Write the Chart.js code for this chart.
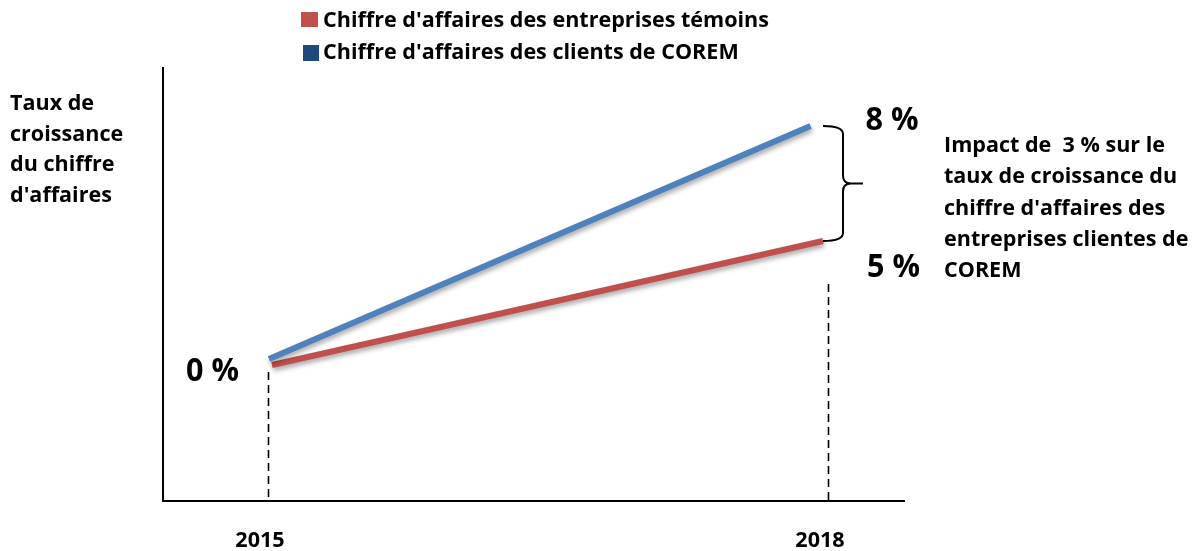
<!DOCTYPE html>
<html>
<head>
<meta charset="utf-8">
<script src="https://cdn.jsdelivr.net/npm/chart.js@4.4.1/dist/chart.umd.min.js"></script>
<style>
  html, body { margin: 0; padding: 0; background: #fff; }
  #wrap { width: 1196px; height: 551px; }
</style>
</head>
<body>
<div id="wrap"><canvas id="chart" width="1196" height="551"></canvas></div>
<script>
"use strict";

// data
var years = [2015, 2018];
var temoinsGrowth = [0, 5];   // entreprises témoins (%)
var clientsGrowth = [0, 8];   // clients de COREM (%)
var seriesNames = [
    "Chiffre d'affaires des entreprises témoins",
    "Chiffre d'affaires des clients de COREM"
];
var yTitle = ["Taux de", "croissance", "du chiffre", "d'affaires"];
var impactNote = [
    "Impact de  3 % sur le",
    "taux de croissance du",
    "chiffre d'affaires des",
    "entreprises clientes de",
    "COREM"
];

var RED = "#c0504d";
var BLUE = "#4f81bd";
var BLUE_KEY = "#1f497d";
var FONT = "'Open Sans', 'DejaVu Sans', sans-serif";

function toPoints(values) {
    return years.map(function (yr, i) { return { x: yr, y: values[i] }; });
}

function pct(v) { return v + " %"; }

// bold text squeezed horizontally by k (Calibri is narrower)
function drawText(ctx, str, x, y, size, k, align) {
    ctx.save();
    ctx.font = "bold " + size + "px " + FONT;
    ctx.textAlign = "left";
    ctx.textBaseline = "alphabetic";
    ctx.fillStyle = "#000";
    var w = ctx.measureText(str).width * k;
    var left = x;
    if (align === "center") left = x - w / 2;
    if (align === "right") left = x - w;
    ctx.translate(left, y);
    ctx.scale(k, 1);
    ctx.fillText(str, 0, 0);
    ctx.restore();
    return w;
}

function squeeze(ctx, str, size, width) {
    ctx.save();
    ctx.font = "bold " + size + "px " + FONT;
    var w = ctx.measureText(str).width;
    ctx.restore();
    return width / w;
}

var shadowPlugin = {
    id: "lineShadow",
    beforeDatasetDraw: function (chart) {
        var ctx = chart.ctx;
        ctx.save();
        ctx.shadowColor = "rgba(0,0,0,0.35)";
        ctx.shadowBlur = 5;
        ctx.shadowOffsetX = 1;
        ctx.shadowOffsetY = 3;
    },
    afterDatasetDraw: function (chart) {
        chart.ctx.restore();
    }
};

var decorPlugin = {
    id: "decor",
    beforeDatasetsDraw: function (chart) {
        var ctx = chart.ctx;
        var a = chart.chartArea;
        var red = chart.getDatasetMeta(0).data;
        var xg = chart.scales.xG;

        ctx.save();
        // axes
        ctx.strokeStyle = "#000";
        ctx.lineWidth = 2;
        ctx.beginPath();
        ctx.moveTo(a.left, a.top);
        ctx.lineTo(a.left, a.bottom);
        ctx.lineTo(a.right, a.bottom);
        ctx.stroke();

        // dashed year markers
        ctx.lineWidth = 1.6;
        ctx.setLineDash([8, 5]);
        var tops = [red[0].y + 7, red[1].y + 43];
        years.forEach(function (yr, i) {
            var x = Math.round(xg.getPixelForValue(yr)) + 0.5;
            ctx.beginPath();
            ctx.moveTo(x, tops[i]);
            ctx.lineTo(x, a.bottom);
            ctx.stroke();
        });
        ctx.restore();
    },
    afterDraw: function (chart) {
        var ctx = chart.ctx;
        var red = chart.getDatasetMeta(0).data;
        var blue = chart.getDatasetMeta(1).data;
        var xg = chart.scales.xG;
        var k = squeeze(ctx, seriesNames[0], 22, 446);
        var kBig = squeeze(ctx, pct(clientsGrowth[1]), 32, 53);

        // legend
        ctx.fillStyle = RED;
        ctx.fillRect(301, 12, 17, 15);
        ctx.fillStyle = BLUE_KEY;
        ctx.fillRect(303, 45, 16, 16);
        drawText(ctx, seriesNames[0], 323, 27, 22, k);
        drawText(ctx, seriesNames[1], 323, 59, 22, k);

        // y title
        yTitle.forEach(function (s, i) {
            drawText(ctx, s, 10, 110 + i * 30.5, 22, k);
        });

        // year labels
        years.forEach(function (yr) {
            drawText(ctx, String(yr), xg.getPixelForValue(yr) - 8, 547, 22, k, "center");
        });

        // value labels
        drawText(ctx, pct(clientsGrowth[0]), blue[0].x - 30, blue[0].y + 22, 32, kBig, "right");
        drawText(ctx, pct(clientsGrowth[1]), blue[1].x + 55, blue[1].y + 4, 32, kBig);
        drawText(ctx, pct(temoinsGrowth[1]), red[1].x + 44, red[1].y + 36, 32, kBig);

        // brace between the two end points
        var x0 = red[1].x, xv = x0 + 20, xt = x0 + 40;
        var top = blue[1].y, bot = red[1].y, mid = (top + bot) / 2, r = 8;
        ctx.save();
        ctx.strokeStyle = "#000";
        ctx.lineWidth = 2;
        ctx.beginPath();
        ctx.moveTo(x0, top);
        ctx.quadraticCurveTo(xv, top, xv, top + r);
        ctx.lineTo(xv, mid - r);
        ctx.quadraticCurveTo(xv, mid, xv + r, mid);
        ctx.lineTo(xt, mid);
        ctx.moveTo(xv + r, mid);
        ctx.quadraticCurveTo(xv, mid, xv, mid + r);
        ctx.lineTo(xv, bot - r);
        ctx.quadraticCurveTo(xv, bot, x0, bot);
        ctx.stroke();
        ctx.restore();

        // impact note
        impactNote.forEach(function (s, i) {
            drawText(ctx, s, 944, 152 + i * 31.3, 22, k);
        });
    }
};

var hidden = { display: false };

new Chart(document.getElementById("chart").getContext("2d"), {
    type: "line",
    data: {
        datasets: [
            {
                label: seriesNames[0],
                data: toPoints(temoinsGrowth),
                borderColor: RED,
                backgroundColor: RED,
                borderWidth: 6,
                borderCapStyle: "butt",
                pointRadius: 0,
                tension: 0,
                xAxisID: "xR",
                yAxisID: "yR",
                order: 1
            },
            {
                label: seriesNames[1],
                data: toPoints(clientsGrowth),
                borderColor: BLUE,
                backgroundColor: BLUE,
                borderWidth: 6,
                borderCapStyle: "butt",
                pointRadius: 0,
                tension: 0,
                xAxisID: "xB",
                yAxisID: "yB",
                order: 0
            }
        ]
    },
    options: {
        responsive: false,
        animation: false,
        devicePixelRatio: 1,
        layout: { padding: { left: 163, right: 291, top: 67, bottom: 50 } },
        plugins: { legend: hidden, tooltip: { enabled: false } },
        scales: {
            xB: { type: "linear", display: false, min: 2014.4127, max: 2018.5235 },
            xR: { type: "linear", display: false, min: 2014.4065, max: 2018.4465 },
            xG: { type: "linear", display: false, min: 2014.4375, max: 2018.4125 },
            yB: { type: "linear", display: false, min: -4.876, max: 10.025 },
            yR: { type: "linear", display: false, min: -5.484, max: 12.016 }
        }
    },
    plugins: [shadowPlugin, decorPlugin]
});
</script>
</body>
</html>
